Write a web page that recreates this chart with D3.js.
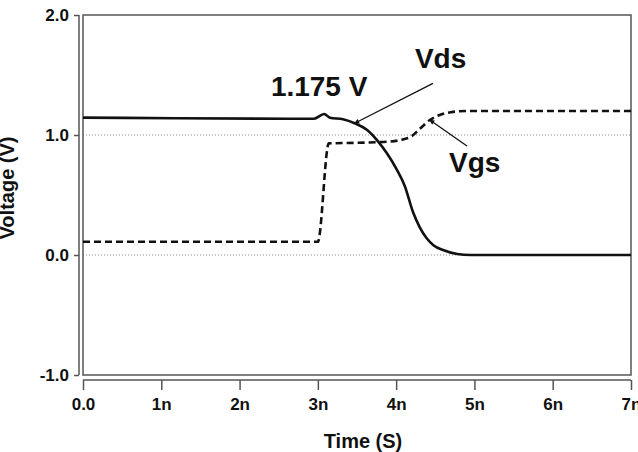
<!DOCTYPE html>
<html>
<head>
<meta charset="utf-8">
<script src="https://cdn.jsdelivr.net/npm/d3@7"></script>
<style>
  html, body { margin: 0; padding: 0; background: #fff; }
  svg text { font-family: "Liberation Sans", Arial, Helvetica, sans-serif; font-weight: bold; fill: #111; }
</style>
</head>
<body>
<svg id="chart" width="638" height="452"></svg>
<script>
// Time axis (ns) and tick labels
const timeTicks = [0, 1, 2, 3, 4, 5, 6, 7];
const timeLabels = ["0.0", "1n", "2n", "3n", "4n", "5n", "6n", "7n"];
const voltTicks = [-1, 0, 1, 2];
const voltLabels = ["-1.0", "0.0", "1.0", "2.0"];
const gridLevels = [0, 1];

// Drain-source voltage (time in ns, volts)
const vdsTime = [0, 1.2, 2.95, 3.08, 3.155, 3.32, 3.47, 3.63, 3.755, 3.88, 4.01, 4.11, 4.215, 4.30, 4.39, 4.48, 4.60, 4.78, 4.95, 7.0];
const vdsVolt = [1.145, 1.14, 1.135, 1.175, 1.144, 1.131, 1.098, 1.042, 0.958, 0.85, 0.71, 0.575, 0.358, 0.233, 0.14, 0.08, 0.042, 0.008, 0, 0];

// Gate-source voltage
const vgsTime = [0, 3.0, 3.14, 3.5, 3.9, 4.1, 4.2, 4.3, 4.43, 4.55, 4.7, 4.9, 7.0];
const vgsVolt = [0.11, 0.11, 0.93, 0.935, 0.945, 0.965, 0.99, 1.05, 1.125, 1.165, 1.19, 1.2, 1.2];

// Callouts: text, text anchor (t, V), arrow tail (t, V), arrow tip (t, V)
const calloutText = ["1.175 V", "Vds", "Vgs"];
const calloutPos = [[2.40, 1.325], [4.24, 1.56], [4.675, 0.694]];
const arrowFrom = [null, [4.47, 1.43], [4.905, 0.908]];
const arrowTo = [null, [3.47, 1.098], [4.43, 1.125]];

const svg = d3.select("#chart");
const plot = { left: 83, right: 631, top: 15, bottom: 375 };

const x = d3.scaleLinear().domain([0, 7]).range([plot.left, plot.right]);
const y = d3.scaleLinear().domain([-1, 2]).range([plot.bottom, plot.top]);

// arrowhead marker
svg.append("defs").append("marker")
  .attr("id", "head")
  .attr("viewBox", "0 0 10 10")
  .attr("refX", 9).attr("refY", 5)
  .attr("markerWidth", 7).attr("markerHeight", 5)
  .attr("markerUnits", "userSpaceOnUse")
  .attr("orient", "auto")
  .append("path").attr("d", "M0,0 L10,5 L0,10 Z").attr("fill", "#111");

// dotted reference lines
svg.append("g").selectAll("line").data(gridLevels).join("line")
  .attr("x1", plot.left).attr("x2", plot.right)
  .attr("y1", d => y(d)).attr("y2", d => y(d))
  .attr("stroke", "#8a8a8a").attr("stroke-width", 1)
  .attr("stroke-dasharray", "1,2");

// plot frame
svg.append("rect")
  .attr("x", plot.left).attr("y", plot.top)
  .attr("width", plot.right - plot.left).attr("height", plot.bottom - plot.top)
  .attr("fill", "none").attr("stroke", "#555").attr("stroke-width", 1.5);

// offset axes
const yAxis = d3.axisLeft(y).tickValues(voltTicks).tickSize(5).tickPadding(5)
  .tickFormat((d, i) => voltLabels[i]);
const yG = svg.append("g").attr("transform", `translate(${plot.left - 4},0)`).call(yAxis);

const xAxis = d3.axisBottom(x).tickValues(timeTicks).tickSize(10).tickPadding(8)
  .tickFormat((d, i) => timeLabels[i]);
const xG = svg.append("g").attr("transform", `translate(0,${plot.bottom + 5})`).call(xAxis);

[yG, xG].forEach(g => {
  g.select(".domain").attr("stroke", "#555").attr("stroke-width", 1.5);
  g.selectAll(".tick line").attr("stroke", "#555").attr("stroke-width", 1.5);
  g.selectAll(".tick text").style("font-size", "17px").style("font-weight", "bold")
    .attr("fill", "#111").style("font-family", '"Liberation Sans", Arial, sans-serif');
});
yG.select(".domain").attr("d", `M0,${plot.top}V${plot.bottom}`);
xG.select(".domain").attr("d", `M${plot.left},0H${plot.right}`);

// axis titles
svg.append("text")
  .attr("x", 363).attr("y", 448)
  .attr("text-anchor", "middle")
  .style("font-size", "20px")
  .text("Time (S)");

svg.append("text")
  .attr("transform", "translate(14,188) rotate(-90)")
  .attr("text-anchor", "middle")
  .style("font-size", "20px")
  .text("Voltage (V)");

// waveforms
const line = d3.line().x(d => x(d[0])).y(d => y(d[1])).curve(d3.curveMonotoneX);
const vds = vdsTime.map((t, i) => [t, vdsVolt[i]]);
const vgs = vgsTime.map((t, i) => [t, vgsVolt[i]]);

svg.append("path").datum(vgs)
  .attr("d", line).attr("fill", "none")
  .attr("stroke", "#111").attr("stroke-width", 2.6)
  .attr("stroke-dasharray", "7,4");

svg.append("path").datum(vds)
  .attr("d", line).attr("fill", "none")
  .attr("stroke", "#111").attr("stroke-width", 2.6);

// callouts
calloutText.forEach((txt, i) => {
  svg.append("text")
    .attr("x", x(calloutPos[i][0])).attr("y", y(calloutPos[i][1]))
    .style("font-size", "28px")
    .text(txt);
  if (arrowFrom[i]) {
    svg.append("line")
      .attr("x1", x(arrowFrom[i][0])).attr("y1", y(arrowFrom[i][1]))
      .attr("x2", x(arrowTo[i][0])).attr("y2", y(arrowTo[i][1]))
      .attr("stroke", "#111").attr("stroke-width", 1.3)
      .attr("marker-end", "url(#head)");
  }
});
</script>
</body>
</html>
